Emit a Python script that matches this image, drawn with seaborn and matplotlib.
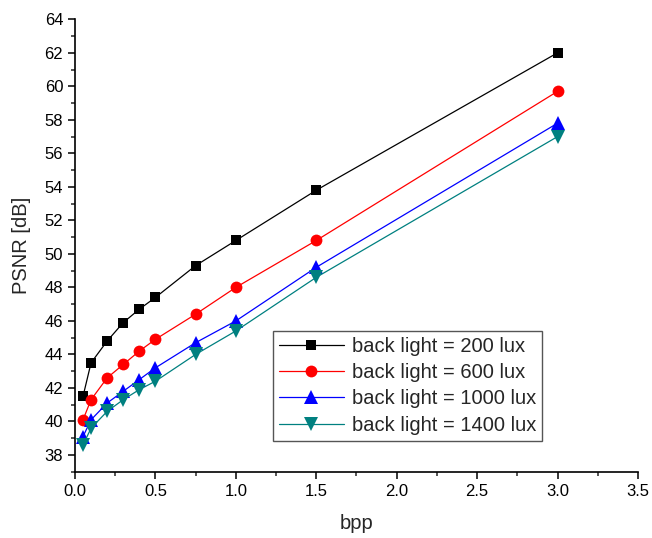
import pandas as pd
import seaborn as sns
import matplotlib
matplotlib.use("Agg")
import matplotlib.pyplot as plt
import matplotlib.ticker as ticker

# Values
bpp = [0.05, 0.1, 0.2, 0.3, 0.4, 0.5, 0.75, 1.0, 1.5, 3.0]
psnr_200 = [41.5, 43.5, 44.8, 45.9, 46.7, 47.4, 49.3, 50.8, 53.8, 62.0]
psnr_600 = [40.1, 41.3, 42.6, 43.4, 44.2, 44.9, 46.4, 48.0, 50.8, 59.7]
psnr_1000 = [39.1, 40.1, 41.1, 41.8, 42.5, 43.2, 44.7, 46.0, 49.2, 57.8]
psnr_1400 = [38.6, 39.6, 40.6, 41.3, 41.9, 42.4, 44.0, 45.4, 48.6, 57.0]

series_names = [
    "back light = 200 lux",
    "back light = 600 lux",
    "back light = 1000 lux",
    "back light = 1400 lux",
]
series_values = [psnr_200, psnr_600, psnr_1000, psnr_1400]
colors = ["black", "red", "blue", "#008080"]
markers = ["s", "o", "^", "v"]
marker_sizes = {"s": 7.5, "o": 8.5, "^": 9.5, "v": 9.5}

# Long-form table for seaborn
rows = []
for name, values in zip(series_names, series_values):
    for x, y in zip(bpp, values):
        rows.append({"bpp": x, "psnr": y, "series": name})
data = pd.DataFrame(rows)

sns.set_theme(style="ticks")
plt.rcParams["font.family"] = ["Liberation Sans", "DejaVu Sans"]

fig = plt.figure(figsize=(6.52, 5.38), dpi=100)
ax = fig.add_axes([0.115, 0.1232, 0.8635, 0.8409])

sns.lineplot(
    data=data, x="bpp", y="psnr", hue="series", style="series",
    hue_order=series_names, style_order=series_names,
    palette=colors, markers=markers, dashes=False,
    linewidth=0.9, markersize=8, markeredgewidth=0, ax=ax,
)
for line in ax.lines:
    m = line.get_marker()
    if m in marker_sizes:
        line.set_markersize(marker_sizes[m])

ax.set_xlim(0, 3.5)
ax.set_ylim(37, 64)
ax.xaxis.set_major_locator(ticker.MultipleLocator(0.5))
ax.xaxis.set_minor_locator(ticker.MultipleLocator(0.25))
ax.xaxis.set_major_formatter(ticker.FormatStrFormatter("%.1f"))
ax.yaxis.set_major_locator(ticker.MultipleLocator(2))
ax.yaxis.set_minor_locator(ticker.MultipleLocator(1))

ax.tick_params(which="major", direction="out", length=5, width=1.1,
               labelsize=12, colors="black")
ax.tick_params(which="minor", direction="out", length=3, width=1.1)

for side in ["top", "right"]:
    ax.spines[side].set_visible(False)
for side in ["left", "bottom"]:
    ax.spines[side].set_linewidth(1.2)
    ax.spines[side].set_color("black")

ax.set_xlabel("bpp", fontsize=14.5, labelpad=11)
ax.set_ylabel("PSNR [dB]", fontsize=14.5, labelpad=10)

handles, labels = ax.get_legend_handles_labels()
for h in handles:
    m = h.get_marker()
    if m in marker_sizes:
        h.set_markersize(marker_sizes[m])
leg = ax.legend(
    handles, labels, loc="lower left", bbox_to_anchor=(0.352, 0.068),
    borderaxespad=0, fontsize=14.5, frameon=True, fancybox=False,
    edgecolor="#555555", framealpha=1, handlelength=3.2,
    labelspacing=0.37, borderpad=0.3, handletextpad=0.4,
)
leg.get_frame().set_linewidth(1.0)

plt.savefig("out.png", dpi=100)
